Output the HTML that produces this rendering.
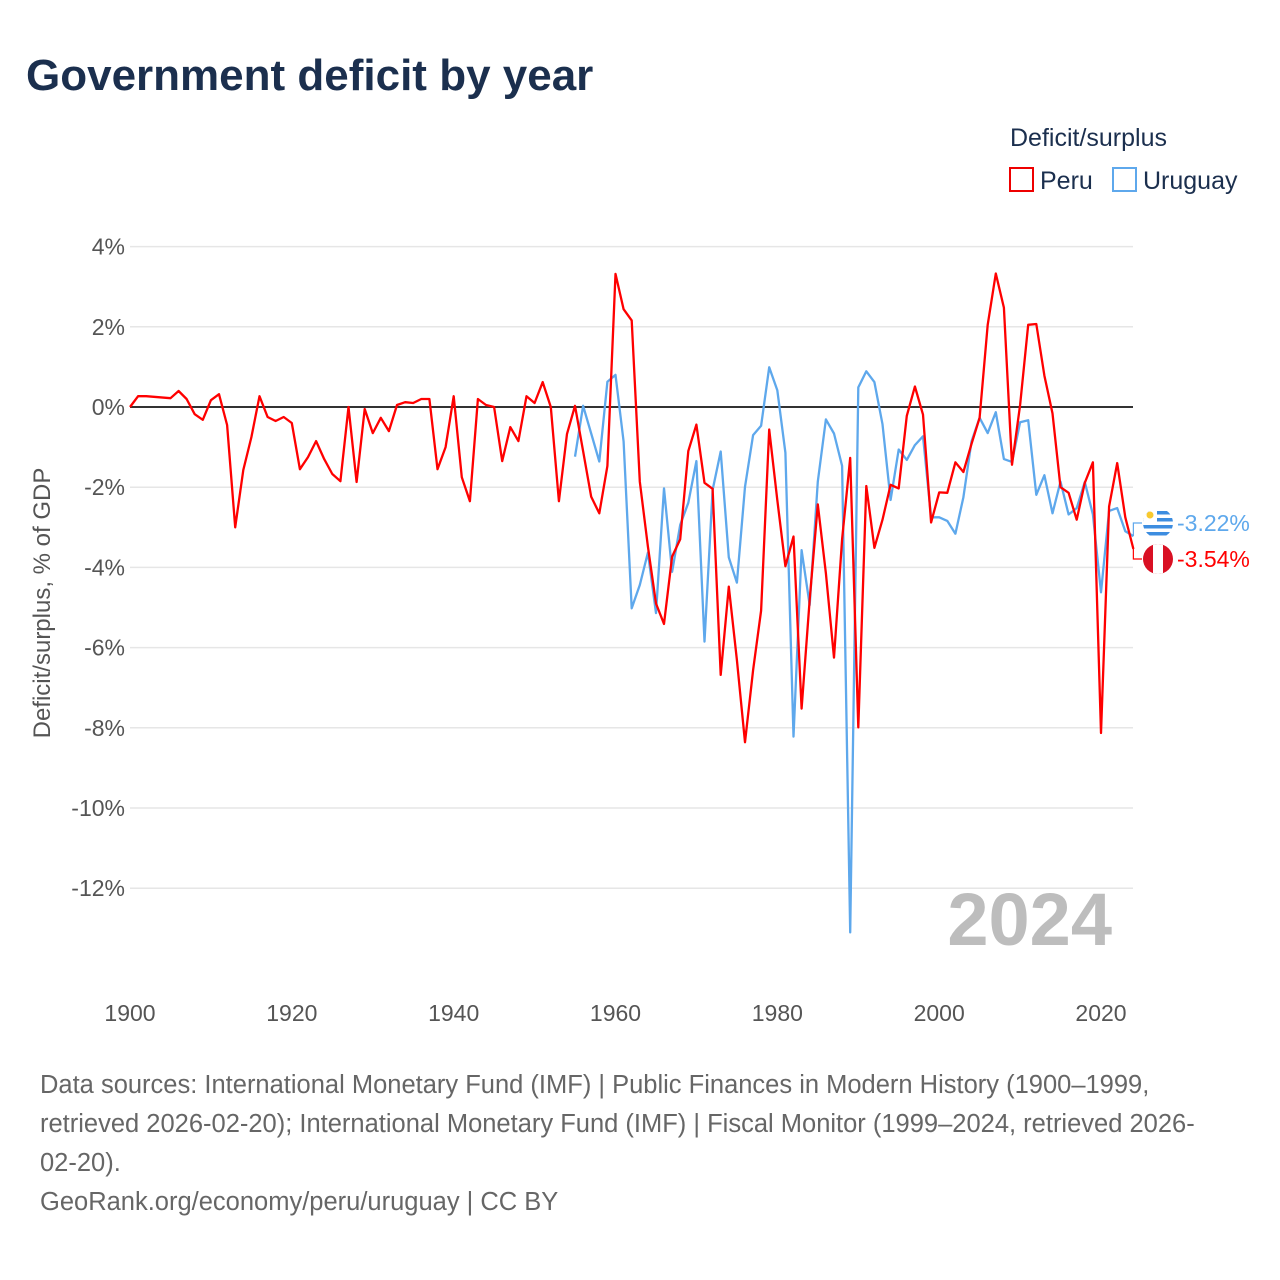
<!DOCTYPE html>
<html><head><meta charset="utf-8"><style>
body{margin:0;background:#fff;font-family:"Liberation Sans",sans-serif;}
#wrap{position:relative;width:1280px;height:1280px;overflow:hidden;}
.t{position:absolute;white-space:nowrap;}
</style></head><body>
<div id="wrap">
<div class="t" style="left:26px;top:51px;font-size:44px;font-weight:bold;color:#1b2f4e;">Government deficit by year</div>
<div class="t" style="left:1010px;top:124px;font-size:25px;color:#1b2f4e;">Deficit/surplus</div>
<div class="t" style="left:1009px;top:167px;font-size:25px;color:#1b2f4e;"><span style="display:inline-block;width:21px;height:21px;border:2px solid #e00;vertical-align:-3px;margin-right:6px;"></span>Peru</div>
<div class="t" style="left:1112px;top:167px;font-size:25px;color:#1b2f4e;"><span style="display:inline-block;width:21px;height:21px;border:2px solid #5ea8ec;vertical-align:-3px;margin-right:6px;"></span>Uruguay</div>
<svg id="chart" width="1280" height="1280" style="position:absolute;left:0;top:0;" xmlns="http://www.w3.org/2000/svg"></svg>
<div class="t" style="left:40px;top:1066px;font-size:25.5px;line-height:39px;color:#666;">Data sources: International Monetary Fund (IMF) | Public Finances in Modern History (1900–1999,<br>retrieved 2026-02-20); International Monetary Fund (IMF) | Fiscal Monitor (1999–2024, retrieved 2026-<br>02-20).<br>GeoRank.org/economy/peru/uruguay | CC BY</div>
</div>
<script>
const yTicks=[4,2,0,-2,-4,-6,-8,-10,-12];
const xTicks=[1900,1920,1940,1960,1980,2000,2020];
const peruYears=[1900,1901,1902,1905,1906,1907,1908,1909,1910,1911,1912,1913,1914,1915,1916,1917,1918,1919,1920,1921,1922,1923,1924,1925,1926,1927,1928,1929,1930,1931,1932,1933,1934,1935,1936,1937,1938,1939,1940,1941,1942,1943,1944,1945,1946,1947,1948,1949,1950,1951,1952,1953,1954,1955,1956,1957,1958,1959,1960,1961,1962,1963,1964,1965,1966,1967,1968,1969,1970,1971,1972,1973,1974,1975,1976,1977,1978,1979,1980,1981,1982,1983,1984,1985,1986,1987,1988,1989,1990,1991,1992,1993,1994,1995,1996,1997,1998,1999,2000,2001,2002,2003,2004,2005,2006,2007,2008,2009,2010,2011,2012,2013,2014,2015,2016,2017,2018,2019,2020,2021,2022,2023,2024];
const peruValues=[0,0.27,0.27,0.22,0.4,0.2,-0.18,-0.32,0.17,0.32,-0.45,-3.0,-1.57,-0.75,0.27,-0.25,-0.35,-0.25,-0.4,-1.55,-1.25,-0.85,-1.3,-1.67,-1.85,0,-1.87,-0.05,-0.65,-0.27,-0.6,0.05,0.12,0.1,0.2,0.2,-1.55,-1.0,0.27,-1.75,-2.35,0.2,0.05,0,-1.35,-0.5,-0.85,0.27,0.1,0.62,0,-2.35,-0.67,0.03,-1.1,-2.24,-2.65,-1.47,3.32,2.44,2.16,-1.86,-3.48,-4.9,-5.41,-3.73,-3.3,-1.1,-0.44,-1.89,-2.04,-6.68,-4.48,-6.31,-8.36,-6.56,-5.08,-0.56,-2.32,-3.97,-3.23,-7.52,-4.8,-2.43,-4.15,-6.25,-3.3,-1.27,-7.99,-1.97,-3.51,-2.81,-1.94,-2.03,-0.22,0.51,-0.19,-2.88,-2.13,-2.14,-1.38,-1.62,-0.92,-0.27,2.05,3.33,2.48,-1.44,0.05,2.05,2.07,0.78,-0.16,-2.0,-2.14,-2.81,-1.89,-1.38,-8.13,-2.48,-1.4,-2.75,-3.54];
const uruYears=[1955,1956,1957,1958,1959,1960,1961,1962,1963,1964,1965,1966,1967,1968,1969,1970,1971,1972,1973,1974,1975,1976,1977,1978,1979,1980,1981,1982,1983,1984,1985,1986,1987,1988,1989,1990,1991,1992,1993,1994,1995,1996,1997,1998,1999,2000,2001,2002,2003,2004,2005,2006,2007,2008,2009,2010,2011,2012,2013,2014,2015,2016,2017,2018,2019,2020,2021,2022,2023,2024];
const uruValues=[-1.24,0.03,-0.66,-1.36,0.63,0.8,-0.86,-5.02,-4.44,-3.63,-5.14,-2.03,-4.11,-2.94,-2.39,-1.35,-5.85,-2.07,-1.11,-3.75,-4.38,-1.99,-0.7,-0.47,0.99,0.42,-1.14,-8.22,-3.57,-4.94,-1.86,-0.31,-0.66,-1.47,-13.1,0.49,0.89,0.62,-0.43,-2.32,-1.06,-1.32,-0.95,-0.73,-2.75,-2.75,-2.84,-3.16,-2.25,-0.86,-0.27,-0.65,-0.13,-1.3,-1.37,-0.38,-0.33,-2.19,-1.7,-2.65,-1.86,-2.68,-2.52,-1.87,-2.68,-4.62,-2.59,-2.52,-3.1,-3.22];
const NS='http://www.w3.org/2000/svg';
const svg=document.getElementById('chart');
const X0=130,X1=1133;
function xs(y){return X0+(y-1900)*(1101-130)/120;}
function ys(v){return 407-v*40.1;}
function mk(t,a){const e=document.createElementNS(NS,t);for(const k in a)e.setAttribute(k,a[k]);svg.appendChild(e);return e;}
yTicks.forEach(v=>{
  const l=mk('line',{x1:X0,x2:X1,y1:ys(v),y2:ys(v),stroke:v===0?'#333':'#e6e6e6','stroke-width':v===0?2:1.5});
  
  
  const t=mk('text',{x:125,y:ys(v)+8,'text-anchor':'end','font-size':23,fill:'#555','font-family':'Liberation Sans, sans-serif'});
  t.textContent=v+'%';
  
  
});
xTicks.forEach(v=>{
  const t=mk('text',{x:xs(v),y:1021,'text-anchor':'middle','font-size':23,fill:'#555','font-family':'Liberation Sans, sans-serif'});
  t.textContent=v;
  
  
});
const yt=mk('text',{x:0,y:0,transform:'translate(50,603) rotate(-90)','text-anchor':'middle','font-size':24,fill:'#555','font-family':'Liberation Sans, sans-serif'});
yt.textContent='Deficit/surplus, % of GDP';


const yr=mk('text',{x:1112,y:945,'text-anchor':'end','font-size':74,'font-weight':'bold',fill:'#bdbdbd','font-family':'Liberation Sans, sans-serif'});
yr.textContent='2024';


function line(yrs,vals,col,name){
  const p=mk('polyline',{points:yrs.map((y,i)=>xs(y).toFixed(1)+','+ys(vals[i]).toFixed(1)).join(' '),fill:'none',stroke:col,'stroke-width':2.3,'stroke-linejoin':'round'});
  
  
}
line(uruYears,uruValues,'#5ea8ec','uruguay-line');
line(peruYears,peruValues,'#f00','peru-line');
const uLast=uruValues[uruValues.length-1],pLast=peruValues[peruValues.length-1];
const uy=523,py=559;
const c1=mk('polyline',{points:`${xs(2024)},${ys(uLast)} ${xs(2024)},${uy} 1142,${uy}`,fill:'none',stroke:'#5ea8ec','stroke-width':1.2});

const c2=mk('polyline',{points:`${xs(2024)},${ys(pLast)} ${xs(2024)},${py} 1142,${py}`,fill:'none',stroke:'#f00','stroke-width':1.2});

const g1=document.createElementNS(NS,'g');svg.appendChild(g1);


g1.innerHTML=`<clipPath id="cu"><circle cx="1158" cy="${uy}" r="15"/></clipPath><g clip-path="url(#cu)"><rect x="1143" y="${uy-15}" width="30" height="30" fill="#fff"/>${[0,1,2,3].map(i=>`<rect x="1143" y="${uy-12+i*7}" width="30" height="3.5" fill="#3d8de0"/>`).join('')}<rect x="1143" y="${uy-15}" width="14" height="14" fill="#fff"/><circle cx="1150" cy="${uy-8}" r="3.5" fill="#f8c92e"/></g>`;
const g2=document.createElementNS(NS,'g');svg.appendChild(g2);


g2.innerHTML=`<clipPath id="cp"><circle cx="1158" cy="${py}" r="15"/></clipPath><g clip-path="url(#cp)"><rect x="1143" y="${py-15}" width="30" height="30" fill="#d91023"/><rect x="1153" y="${py-15}" width="10" height="30" fill="#fff"/></g>`;
const t1=mk('text',{x:1177,y:uy+8,'font-size':23,fill:'#5ea8ec','font-family':'Liberation Sans, sans-serif'});
t1.textContent=uLast.toFixed(2)+'%';

const t2=mk('text',{x:1177,y:py+8,'font-size':23,fill:'#f00','font-family':'Liberation Sans, sans-serif'});
t2.textContent=pLast.toFixed(2)+'%';

</script>
</body></html>
